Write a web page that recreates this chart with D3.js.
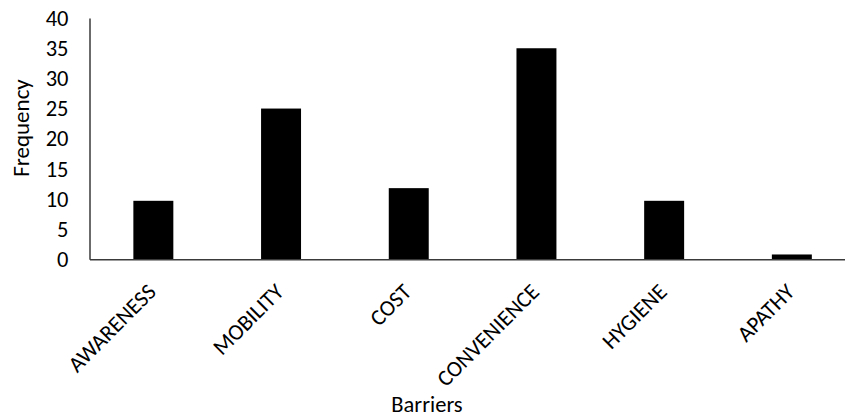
<!DOCTYPE html>
<html>
<head>
<meta charset="utf-8">
<script src="https://cdn.jsdelivr.net/npm/d3@7"></script>
<style>
  html, body { margin: 0; padding: 0; background: #fff; }
  svg text { font-family: Carlito, Lato, "Open Sans", sans-serif; fill: #000; }
</style>
</head>
<body>
<svg id="chart" width="845" height="418"></svg>
<script>
// Barrier categories and their reported frequencies
const categories = ["AWARENESS", "MOBILITY", "COST", "CONVENIENCE", "HYGIENE", "APATHY"];
const frequencies = [9.7, 25, 11.8, 35, 9.7, 0.8];
const yTicks = [0, 5, 10, 15, 20, 25, 30, 35, 40];

const svg = d3.select("#chart");

const plotLeft = 89.5, plotRight = 855.7;
const plotTop = 18.1, plotBottom = 259.3;
const labelSize = "22.5px";

const x = d3.scaleBand()
  .domain(categories)
  .range([plotLeft, plotRight])
  .paddingInner(0.687)
  .paddingOuter(0.3435);

const y = d3.scaleLinear()
  .domain([0, 40])
  .range([plotBottom, plotTop]);

// Bars
svg.append("g")
  .selectAll("rect")
  .data(categories)
  .join("rect")
  .attr("x", d => x(d))
  .attr("width", x.bandwidth())
  .attr("y", (d, i) => y(frequencies[i]))
  .attr("height", (d, i) => y(0) - y(frequencies[i]))
  .attr("fill", "#000");

// Y axis: line with numeric labels, no tick marks
const yAxis = svg.append("g")
  .attr("transform", `translate(${plotLeft},0)`)
  .call(d3.axisLeft(y).tickValues(yTicks).tickSize(0).tickPadding(21));
yAxis.select(".domain").attr("stroke", "#3a3a3a").attr("stroke-width", 1.5);
yAxis.selectAll("text")
  .style("font-size", labelSize)
  .attr("fill", "#000");

// X axis: baseline and rotated category labels
const xAxis = svg.append("g")
  .attr("transform", `translate(0,${plotBottom})`)
  .call(d3.axisBottom(x).tickSize(0).tickSizeOuter(0));
xAxis.select(".domain").attr("stroke", "#3a3a3a").attr("stroke-width", 1.5);
xAxis.selectAll("text")
  .style("font-size", labelSize)
  .attr("text-anchor", "end")
  .attr("dy", null)
  .attr("y", 0)
  .attr("transform", "translate(4,34) rotate(-45)");

// Axis titles
svg.append("text")
  .attr("x", 427)
  .attr("y", 412)
  .attr("text-anchor", "middle")
  .style("font-size", labelSize)
  .text("Barriers");

svg.append("text")
  .attr("transform", "translate(29,128) rotate(-90)")
  .attr("text-anchor", "middle")
  .style("font-size", "23px")
  .text("Frequency");
</script>
</body>
</html>
